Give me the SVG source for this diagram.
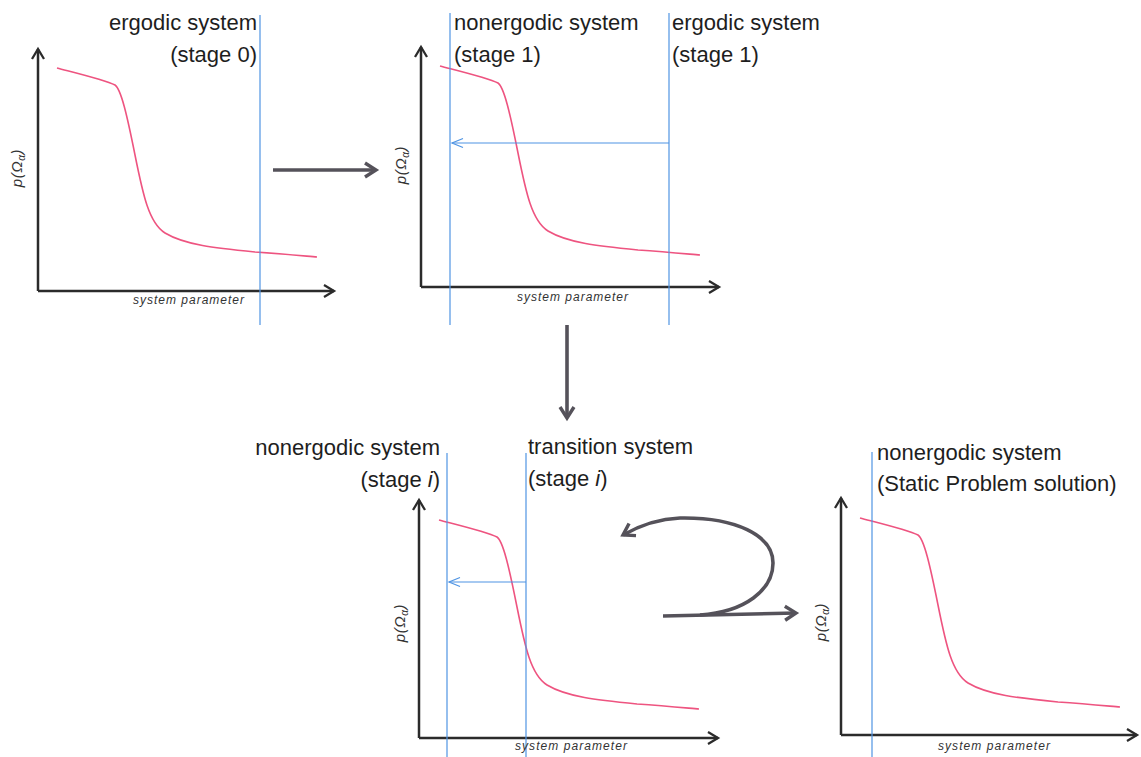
<svg xmlns="http://www.w3.org/2000/svg" xmlns:xlink="http://www.w3.org/1999/xlink" width="1141" height="757" viewBox="0 0 1141 757">
<style>
.bg{fill:#ffffff}
.axis{fill:none;stroke:#2b2b2b;stroke-width:2.5;marker-end:url(#axhead)}
.curve{fill:none;stroke:#ee5480;stroke-width:1.6}
.vline{fill:none;stroke:#4f94e3;stroke-width:1.2}
.barrow{fill:none;stroke:#4f94e3;stroke-width:1.2;marker-end:url(#bhead)}
.garrow{fill:none;stroke:#55525a;stroke-width:3.6;stroke-linecap:butt;marker-end:url(#ghead)}
.title{font-family:"Liberation Sans",Arial,sans-serif;font-size:22px;fill:#1e1e1e}
.xlab{font-family:"Liberation Sans",Arial,sans-serif;font-size:12px;font-style:italic;fill:#333}
.ylab{font-family:"Liberation Sans",Arial,sans-serif;font-size:15px;font-style:italic;fill:#333;letter-spacing:0.6px}
</style>
<defs>
<marker id="axhead" markerUnits="userSpaceOnUse" viewBox="-15 -15 30 30" markerWidth="30" markerHeight="30" refX="0" refY="0" orient="auto">
<path d="M-10,-6 L0,0 L-10,6" fill="none" stroke="#2b2b2b" stroke-width="2.3"/>
</marker>
<marker id="bhead" markerUnits="userSpaceOnUse" viewBox="-15 -15 30 30" markerWidth="30" markerHeight="30" refX="0" refY="0" orient="auto">
<path d="M-11,-4.5 L0,0 L-11,4.5" fill="none" stroke="#4f94e3" stroke-width="1.2"/>
</marker>
<marker id="ghead" markerUnits="userSpaceOnUse" viewBox="-15 -15 30 30" markerWidth="30" markerHeight="30" refX="0" refY="0" orient="auto">
<path d="M-11,-7 L0,0 L-11,7" fill="none" stroke="#55525a" stroke-width="3.4" stroke-linejoin="miter"/>
</marker>
<path id="curveShape" class="curve" d="M-58,-17 C-35,-11 -10,-5 0,0 C6,4 12,30 20,70 C28,110 34,138 50,148 C70,160 100,163 140,167 C170,169 190,171 202,172"/>
</defs>
<rect class="bg" x="0" y="0" width="1141" height="757"/>

<g id="panel1">
<path class="axis" d="M38,291 L38,49"/>
<path class="axis" d="M38,291 L334,291"/>
<use xlink:href="#curveShape" href="#curveShape" transform="translate(115,85)"/>
<line class="vline" x1="260" y1="15" x2="260" y2="325"/>
<text class="title" x="257" y="30" text-anchor="end">ergodic system</text>
<text class="title" x="257" y="62" text-anchor="end">(stage 0)</text>
<text class="xlab" x="133" y="304" textLength="111" lengthAdjust="spacing">system parameter</text>
<text class="ylab" transform="translate(22,168) rotate(-90)" text-anchor="middle">p(Ω<tspan font-size="10" dy="3">α</tspan><tspan dy="-3">)</tspan></text>
</g>

<g id="panel2">
<path class="axis" d="M421,287 L421,47"/>
<path class="axis" d="M421,287 L719,287"/>
<use xlink:href="#curveShape" href="#curveShape" transform="translate(498,83)"/>
<line class="vline" x1="450" y1="13" x2="450" y2="325"/>
<line class="vline" x1="669" y1="13" x2="669" y2="325"/>
<path class="barrow" d="M669,143 L452,143"/>
<text class="title" x="454" y="30">nonergodic system</text>
<text class="title" x="454" y="62">(stage 1)</text>
<text class="title" x="672" y="30">ergodic system</text>
<text class="title" x="672" y="62">(stage 1)</text>
<text class="xlab" x="517" y="301" textLength="111" lengthAdjust="spacing">system parameter</text>
<text class="ylab" transform="translate(406,165) rotate(-90)" text-anchor="middle">p(Ω<tspan font-size="10" dy="3">α</tspan><tspan dy="-3">)</tspan></text>
</g>

<g id="panel3">
<path class="axis" d="M419,738 L419,500"/>
<path class="axis" d="M419,738 L718,738"/>
<use xlink:href="#curveShape" href="#curveShape" transform="translate(497,537)"/>
<line class="vline" x1="447" y1="453" x2="447" y2="757"/>
<line class="vline" x1="526" y1="453" x2="526" y2="757"/>
<path class="barrow" d="M526,582 L449,582"/>
<text class="title" x="440" y="455" text-anchor="end">nonergodic system</text>
<text class="title" x="440" y="487" text-anchor="end">(stage <tspan font-style="italic">i</tspan>)</text>
<text class="title" x="528" y="454">transition system</text>
<text class="title" x="528" y="486">(stage <tspan font-style="italic">i</tspan>)</text>
<text class="xlab" x="515" y="750" textLength="112" lengthAdjust="spacing">system parameter</text>
<text class="ylab" transform="translate(405,623) rotate(-90)" text-anchor="middle">p(Ω<tspan font-size="10" dy="3">α</tspan><tspan dy="-3">)</tspan></text>
</g>

<g id="panel4">
<path class="axis" d="M841,735 L841,498"/>
<path class="axis" d="M841,735 L1137,735"/>
<use xlink:href="#curveShape" href="#curveShape" transform="translate(918,535)"/>
<line class="vline" x1="872" y1="452" x2="872" y2="757"/>
<text class="title" x="877" y="460">nonergodic system</text>
<text class="title" x="877" y="491">(Static Problem solution)</text>
<text class="xlab" x="938" y="750" textLength="112" lengthAdjust="spacing">system parameter</text>
<text class="ylab" transform="translate(826,622) rotate(-90)" text-anchor="middle">p(Ω<tspan font-size="10" dy="3">α</tspan><tspan dy="-3">)</tspan></text>
</g>

<g id="connectors">
<path class="garrow" d="M273,170 L376,170"/>
<path class="garrow" d="M567,325 L567,418"/>
<path class="garrow" d="M663,616 L796,613"/>
<path class="garrow" d="M700,615 C745,612 773,590 773,563 C773,535 735,517 680,518 C655,519 637,527 623,535"/>
</g>
</svg>
